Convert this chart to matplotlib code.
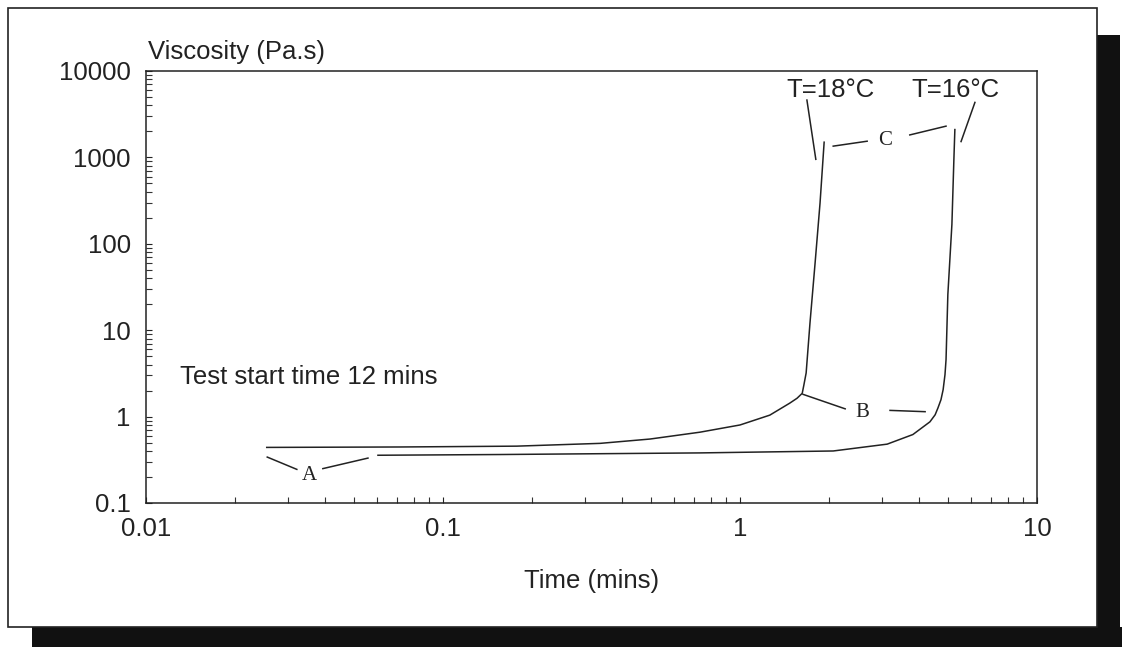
import numpy as np
import matplotlib
matplotlib.use("Agg")
import matplotlib.pyplot as plt
from matplotlib.patches import Rectangle
from matplotlib.ticker import FixedLocator, LogLocator, NullFormatter

plt.rcParams['font.family'] = ['Liberation Sans', 'DejaVu Sans']

# curve data
t_18 = [0.0255, 0.0716, 0.177, 0.338, 0.498, 0.733, 1.0, 1.26, 1.47, 1.556, 1.62,
        1.64, 1.67, 1.72, 1.79, 1.86, 1.92]
visc_18 = [0.44, 0.445, 0.455, 0.49, 0.55, 0.66, 0.80, 1.04, 1.43, 1.63, 1.86,
           2.30, 3.2, 12, 60, 297, 1500]
t_16 = [0.0604, 0.156, 0.338, 0.733, 1.233, 2.06, 3.13, 3.82, 4.36, 4.54, 4.64,
        4.75, 4.83, 4.90, 4.94, 5.01, 5.17, 5.25, 5.29]
visc_16 = [0.357, 0.364, 0.372, 0.38, 0.39, 0.40, 0.48, 0.62, 0.87, 1.05, 1.26,
           1.57, 2.05, 3.06, 4.56, 25.9, 168, 950, 2100]

x_ticks = [0.01, 0.1, 1, 10]
x_labels = ['0.01', '0.1', '1', '10']
y_ticks = [0.1, 1, 10, 100, 1000, 10000]
y_labels = ['0.1', '1', '10', '100', '1000', '10000']

# annotation letters and their leader lines (data coords)
letters = ['A', 'B', 'C']
letter_pos = [(0.0356, 0.208), (2.59, 1.11), (3.08, 1560)]
leaders = [
    [(0.0256, 0.34), (0.0322, 0.245)],
    [(0.0394, 0.25), (0.0559, 0.331)],
    [(1.63, 1.81), (2.26, 1.23)],
    [(3.20, 1.18), (4.20, 1.14)],
    [(2.06, 1350), (2.68, 1540)],
    [(3.73, 1820), (4.94, 2300)],
    [(1.68, 4610), (1.80, 950)],
    [(6.18, 4330), (5.55, 1525)],
]
temp_labels = ['T=18°C', 'T=16°C']
temp_pos = [(2.01, 6100), (5.30, 6100)]

fig = plt.figure(figsize=(11.22, 6.47), dpi=100)
W, H = 1122, 647

# shadow and outer frame
fig.patches.append(Rectangle((1097 / W, 0), 23 / W, 1 - 35 / H, transform=fig.transFigure,
                             facecolor='#111111', edgecolor='none', zorder=0))
fig.patches.append(Rectangle((32 / W, 0), 1 - 32 / W, 20 / H, transform=fig.transFigure,
                             facecolor='#111111', edgecolor='none', zorder=0))
fig.patches.append(Rectangle((8 / W, 1 - 627 / H), 1089 / W, 619 / H, transform=fig.transFigure,
                             facecolor='white', edgecolor='#222222', linewidth=1.2, zorder=1))

ax = fig.add_axes([146 / W, 1 - 503 / H, 891 / W, 432 / H])
ax.set_zorder(2)
ax.set_facecolor('none')
ax.set_xscale('log')
ax.set_yscale('log')
ax.set_xlim(0.01, 10)
ax.set_ylim(0.1, 10000)

ax.plot(t_18, visc_18, color='#222222', lw=1.1)
ax.plot(t_16, visc_16, color='#222222', lw=1.1)

ax.xaxis.set_major_locator(FixedLocator(x_ticks))
ax.set_xticklabels(x_labels)
ax.yaxis.set_major_locator(FixedLocator(y_ticks))
ax.set_yticklabels(y_labels)
ax.xaxis.set_minor_locator(LogLocator(base=10, subs=np.arange(2, 10)))
ax.yaxis.set_minor_locator(LogLocator(base=10, subs=np.arange(2, 10)))
ax.xaxis.set_minor_formatter(NullFormatter())
ax.yaxis.set_minor_formatter(NullFormatter())
ax.tick_params(which='both', direction='in', top=False, right=False,
               color='#333333', width=0.8)
ax.tick_params(which='major', length=4, labelsize=18.5, colors='#222222')
ax.tick_params(which='minor', length=4)
ax.tick_params(axis='x', which='major', pad=10)
ax.tick_params(axis='y', which='major', pad=11)
for s in ax.spines.values():
    s.set_linewidth(1.1)
    s.set_color('#222222')

ax.set_xlabel('Time (mins)', fontsize=18.5, color='#222222', labelpad=20)
fig.text(148 / W, 1 - 52 / H, 'Viscosity (Pa.s)', fontsize=18.5, color='#222222',
         ha='left', va='center')

ax.text(0.0130, 2.87, 'Test start time 12 mins', fontsize=18.5, color='#222222',
        ha='left', va='center')

for lab, (x, y) in zip(letters, letter_pos):
    ax.text(x, y, lab, fontsize=15, family='Liberation Serif', color='#222222',
            ha='center', va='center')
for seg in leaders:
    xs = [p[0] for p in seg]
    ys = [p[1] for p in seg]
    ax.plot(xs, ys, color='#222222', lw=1.1, clip_on=False)
for lab, (x, y) in zip(temp_labels, temp_pos):
    ax.text(x, y, lab, fontsize=18.5, color='#222222', ha='center', va='center')

fig.savefig('out.png', dpi=100)
